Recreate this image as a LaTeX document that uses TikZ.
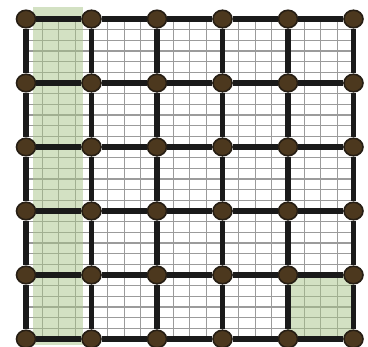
\documentclass[tikz,border=0pt]{standalone}
\usetikzlibrary{shapes.geometric}
\definecolor{nodebrown}{RGB}{76,56,30}
\definecolor{nodeedge}{RGB}{38,30,20}
\definecolor{thickline}{RGB}{26,26,26}
\definecolor{fineline}{RGB}{155,155,155}
\definecolor{greenfill}{RGB}{168,196,136}
\begin{document}
\begin{tikzpicture}[x=1pt,y=-1pt,
  dot/.style={ellipse,minimum width=19pt,minimum height=17.5pt,inner sep=0pt,fill=nodebrown,draw=nodeedge,line width=1.6pt},
  fine/.style={draw=fineline,line width=1.1pt},
  heavy/.style={draw=thickline,line width=5.2pt},
  shade/.style={fill=greenfill,opacity=0.5}]
\useasboundingbox (0,0) rectangle (368,347);
% fine grid
\foreach \k in {1,...,19} {\draw[fine] ({26+\k*65.5/4},19) -- ({26+\k*65.5/4},339);}
\foreach \k in {1,...,29} {\draw[fine] (26,{19+\k*64/6}) -- (353.5,{19+\k*64/6});}
% green highlights
\fill[shade] (33,7) rectangle (83,345);
\fill[shade] (288,275) rectangle (353.5,339);
% nodes
\foreach \i in {0,...,5} {
  \foreach \j in {0,...,5} {
    \node[dot] (n-\i-\j) at ({26+\i*65.5},{19+\j*64}) {};
  }
}
% heavy connectors between nodes
\foreach \i in {0,...,5} {
  \foreach \j in {0,...,4} {
    \pgfmathtruncatemacro{\jn}{\j+1}
    \draw[heavy] (n-\i-\j) -- (n-\i-\jn);
    \draw[heavy] (n-\j-\i) -- (n-\jn-\i);
  }
}
\end{tikzpicture}
\end{document}
